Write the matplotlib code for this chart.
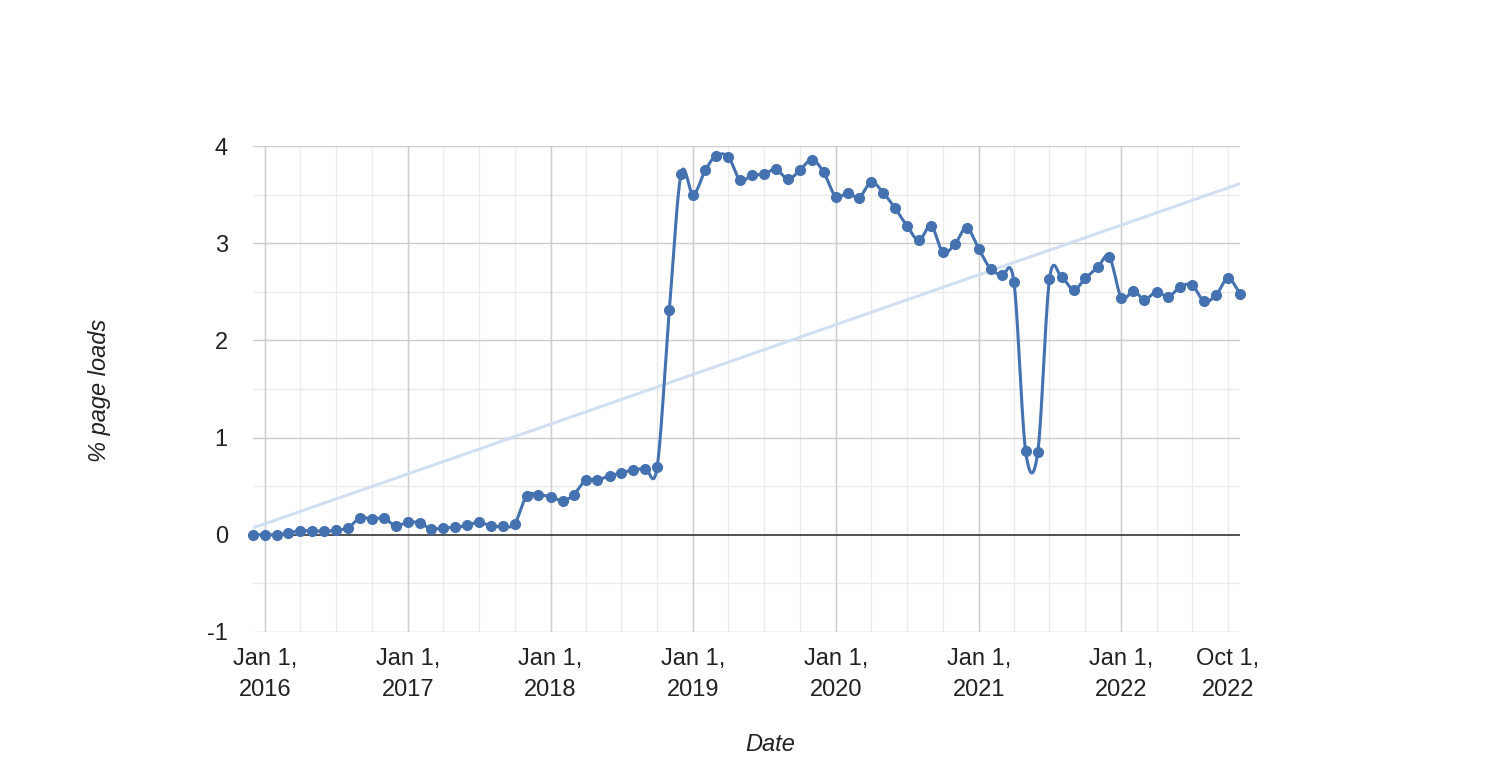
import numpy as np
import pandas as pd
import matplotlib
matplotlib.use("Agg")
import matplotlib.pyplot as plt
import matplotlib.dates as mdates

# monthly values, Dec 2015 .. Nov 2022
start_month = "2015-12-01"
pct_page_loads = [
    0.00,
    0.00, 0.00, 0.02, 0.04, 0.04, 0.035, 0.045, 0.07, 0.175, 0.16, 0.17, 0.09,
    0.13, 0.12, 0.06, 0.07, 0.075, 0.095, 0.13, 0.09, 0.085, 0.11, 0.40, 0.41,
    0.39, 0.35, 0.41, 0.56, 0.565, 0.605, 0.635, 0.67, 0.68, 0.70, 2.31, 3.71,
    3.50, 3.75, 3.90, 3.89, 3.65, 3.70, 3.71, 3.76, 3.66, 3.75, 3.86, 3.73,
    3.48, 3.52, 3.47, 3.63, 3.52, 3.36, 3.18, 3.03, 3.18, 2.91, 2.99, 3.16,
    2.94, 2.73, 2.67, 2.60, 0.86, 0.85, 2.63, 2.65, 2.52, 2.64, 2.75, 2.86,
    2.44, 2.51, 2.42, 2.50, 2.45, 2.55, 2.57, 2.40, 2.47, 2.64, 2.48,
]
tick_dates = ["2016-01-01", "2017-01-01", "2018-01-01", "2019-01-01",
              "2020-01-01", "2021-01-01", "2022-01-01", "2022-10-01"]
tick_labels = ["Jan 1,\n2016", "Jan 1,\n2017", "Jan 1,\n2018", "Jan 1,\n2019",
               "Jan 1,\n2020", "Jan 1,\n2021", "Jan 1,\n2022", "Oct 1,\n2022"]

LINE = "#4472b0"
TREND = "#d0e0f0"
TXT = "#222222"

dates = pd.date_range(start_month, periods=len(pct_page_loads), freq="MS")
xs = mdates.date2num(dates.to_pydatetime())
ys = np.array(pct_page_loads)


def catmull_rom(x, y, n=30):
    # smooth curve through the points (like curveType 'function')
    px = np.concatenate([[2 * x[0] - x[1]], x, [2 * x[-1] - x[-2]]])
    py = np.concatenate([[2 * y[0] - y[1]], y, [2 * y[-1] - y[-2]]])
    t = np.linspace(0, 1, n, endpoint=False)
    out_x, out_y = [], []
    for i in range(1, len(px) - 2):
        for p, out in ((px, out_x), (py, out_y)):
            p0, p1, p2, p3 = p[i - 1], p[i], p[i + 1], p[i + 2]
            out.append(0.5 * (2 * p1 + (-p0 + p2) * t
                              + (2 * p0 - 5 * p1 + 4 * p2 - p3) * t ** 2
                              + (-p0 + 3 * p1 - 3 * p2 + p3) * t ** 3))
    out_x.append([x[-1]])
    out_y.append([y[-1]])
    return np.concatenate(out_x), np.concatenate(out_y)


plt.rcParams["font.family"] = ["Liberation Sans", "DejaVu Sans"]
fig = plt.figure(figsize=(14.87, 7.81), dpi=100)
ax = fig.add_axes([0.170, 0.191, 0.664, 0.622])

# grid
years = pd.date_range("2016-01-01", "2022-01-01", freq="YS")
quarters = pd.date_range("2015-12-01", "2022-11-01", freq="QS-JAN")
for q in quarters:
    ax.axvline(q, color="#ebebeb", lw=1, zorder=0)
for yv in np.arange(-0.5, 4.0, 1.0):
    ax.axhline(yv, color="#ebebeb", lw=1, zorder=0)
for yr in years:
    ax.axvline(yr, color="#cccccc", lw=1, zorder=1)
for yv in [-1, 1, 2, 3, 4]:
    ax.axhline(yv, color="#cccccc", lw=1, zorder=1)
ax.axhline(0, color="#333333", lw=1.2, zorder=2)

# trend line (linear fit)
k, b = np.polyfit(xs, ys, 1)
ax.plot([xs[0], xs[-1]], [k * xs[0] + b, k * xs[-1] + b], color=TREND, lw=2.2, zorder=3)

cx, cy = catmull_rom(xs, ys)
ax.plot(cx, cy, color=LINE, lw=2.2, zorder=4, solid_capstyle="round", clip_on=False)
ax.plot(xs, ys, "o", color=LINE, ms=7, zorder=5, clip_on=False)

ax.set_xlim(xs[0], xs[-1])
ax.set_ylim(-1, 4)
ax.set_xticks(mdates.date2num(pd.to_datetime(tick_dates).to_pydatetime()))
ax.set_xticklabels(tick_labels, fontsize=17, color=TXT, linespacing=1.5)
ax.set_yticks([-1, 0, 1, 2, 3, 4])
ax.set_yticklabels(["-1", "0", "1", "2", "3", "4"], fontsize=17, color=TXT)
ax.tick_params(axis="x", length=0, pad=12)
ax.tick_params(axis="y", length=0, pad=18)
for s in ax.spines.values():
    s.set_visible(False)

fig.text(0.518, 0.047, "Date", fontsize=17, style="italic", color=TXT,
         ha="center", va="center")
fig.text(0.067, 0.50, "% page loads", fontsize=17, style="italic", color=TXT,
         ha="center", va="center", rotation=90)

fig.savefig("out.png", dpi=100)
